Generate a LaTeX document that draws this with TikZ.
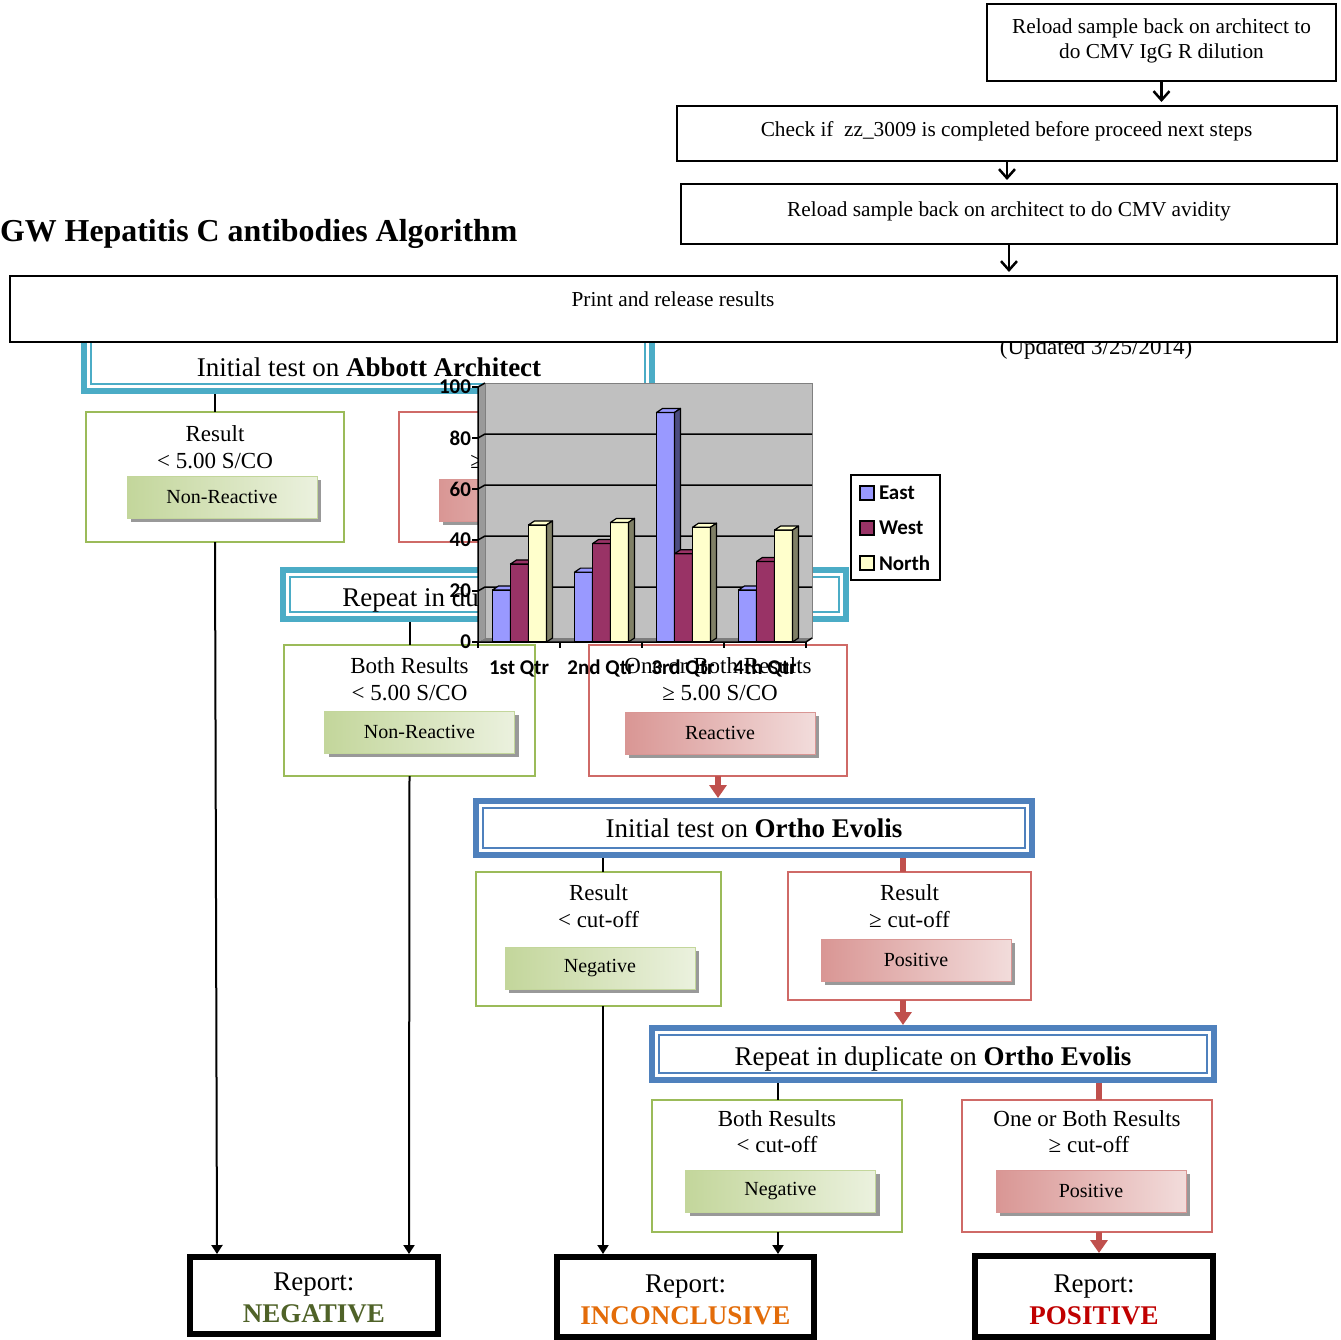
\documentclass[tikz,border=0pt]{standalone}
\usepackage{fontspec}
\setmainfont{Liberation Serif}
\newfontfamily\chartfont{Carlito}
\usetikzlibrary{arrows.meta,shadows}
\definecolor{tealc}{HTML}{4BACC6}
\definecolor{bluec}{HTML}{4F81BD}
\definecolor{grnb}{HTML}{9BBB59}
\definecolor{redb}{HTML}{C0504D}
\definecolor{redbox}{HTML}{CF6A67}
\definecolor{gbtnD}{HTML}{C3D69B}
\definecolor{gbtnL}{HTML}{EBF1DE}
\definecolor{rbtnD}{HTML}{D99694}
\definecolor{rbtnL}{HTML}{F2DCDB}
\definecolor{negc}{HTML}{4F6228}
\definecolor{incc}{HTML}{E36C09}
\definecolor{posc}{HTML}{C00000}
\definecolor{eastc}{HTML}{9999FF}
\definecolor{eastd}{HTML}{4C4C80}
\definecolor{westc}{HTML}{993366}
\definecolor{westd}{HTML}{4C1933}
\definecolor{northc}{HTML}{FFFFCC}
\definecolor{northd}{HTML}{808066}
\definecolor{wallc}{HTML}{C0C0C0}
\newcommand\chartbar[4]{%
  \pgfmathsetmacro\ytop{642-2.55*#2}%
  \filldraw[fill=#3, draw=black, line width=1.2pt, line join=round] (#1,642) rectangle ({#1+18},\ytop);
  \filldraw[fill=#3, draw=black, line width=1.2pt, line join=round] (#1,\ytop) -- ({#1+6},{\ytop-4}) -- ({#1+24},{\ytop-4}) -- ({#1+18},\ytop) -- cycle;
  \filldraw[fill=#4, draw=black, line width=1.2pt, line join=round] ({#1+18},642) -- ({#1+18},\ytop) -- ({#1+24},{\ytop-4}) -- ({#1+24},638) -- cycle;
}
\tikzset{
  every node/.style={inner sep=0pt, outer sep=0pt},
  plainbox/.style={draw=black, line width=2pt, fill=white},
  hdr/.style={draw=#1, line width=6pt, fill=white},
  gbox/.style={draw=grnb, line width=1.5pt, fill=white},
  rbox/.style={draw=redbox, line width=1.5pt, fill=white},
  btn/.style={minimum width=190pt, minimum height=42pt, line width=0.8pt,
     font=\fontsize{20}{24}\selectfont,
     drop shadow={shadow xshift=4pt, shadow yshift=-4pt, fill=black!40, opacity=1}},
  gbtn/.style={btn, left color=gbtnD, right color=gbtnL, draw=gbtnD},
  rbtn/.style={btn, left color=rbtnD, right color=rbtnL, draw=rbtnD},
  rep/.style={draw=black, line width=6pt, fill=white},
  tbox/.style={font=\fontsize{21.3}{25}\selectfont, anchor=base},
  hd/.style={font=\fontsize{27}{32}\selectfont, anchor=base},
  bt/.style={font=\fontsize{23}{27}\selectfont, anchor=base},
  blk/.style={draw=black, line width=2pt, -{Triangle[width=11pt,length=9pt]}},
  blkl/.style={draw=black, line width=2pt},
  redar/.style={draw=redb, line width=6pt, -{Triangle[width=17pt,length=13pt]}},
  redl/.style={draw=redb, line width=6pt},
  topar/.style={draw=black, line width=2.5pt, -{Straight Barb[length=9pt,width=16pt]}},
  ct/.style={font=\chartfont\bfseries\fontsize{21}{25}\selectfont}
}
\begin{document}
\begin{tikzpicture}[x=1pt,y=-1pt]
\useasboundingbox[fill=white] (0,0) rectangle (1341,1340);

% ---------- top steps ----------
\node[anchor=base west, font=\fontsize{31.9}{36}\selectfont\bfseries] (title) at (0,242) {GW Hepatitis C antibodies Algorithm};

\node[plainbox, minimum width=349pt, minimum height=77pt] (R1) at (1161.5,42.5) {};
\node[tbox] (R1a) at (1161.5,34) {Reload sample back on architect to};
\node[tbox] (R1b) at (1161.5,59) {do CMV IgG R dilution};

\node[plainbox, minimum width=660pt, minimum height=55pt] (R2) at (1007,133.5) {};
\node[tbox] (R2t) at (1006.5,137) {Check if\ \ zz\_3009 is completed before proceed next steps};

\node[plainbox, minimum width=656pt, minimum height=60pt] (R3) at (1009,214) {};
\node[tbox] (R3t) at (1009,217) {Reload sample back on architect to do CMV avidity};

\draw[topar, shorten >=4pt] (R1.south) -- (R1.south |- R2.north);
\draw[topar, shorten >=4pt] (R2.south) -- (R2.south |- R3.north);

% ---------- Abbott initial (partly hidden) ----------
\node[hdr=tealc, minimum width=568pt, minimum height=61pt] (AB) at (368,360.5) {};
\draw[tealc, line width=1.5pt] ([shift={(7,7)}]AB.north west) rectangle ([shift={(-7,-7)}]AB.south east);
\node[hd] (ABt) at (369,376) {Initial test on \textbf{Abbott Architect}};

\node[anchor=base, font=\fontsize{23}{27}\selectfont] (upd) at (1096,354) {(Updated 3/25/2014)};

\node[plainbox, minimum width=1327pt, minimum height=66pt] (PR) at (673.5,309) {};
\node[tbox] (PRt) at (673,306) {Print and release results};
\draw[topar, shorten >=4pt] (R3.south) -- (R3.south |- PR.north);

% ---------- Abbott results ----------
\node[gbox, minimum width=258pt, minimum height=130pt] (GB1) at (215,477) {};
\node[bt] (GB1a) at (215,441) {Result};
\node[bt] (GB1b) at (215,468) {< 5.00 S/CO};
\node[gbtn] (NR1) at (222,497) {Non-Reactive};

\node[rbox, minimum width=258pt, minimum height=130pt] (RB1) at (528,477) {};
\node[bt] (RB1a) at (528,441) {Result};
\node[bt] (RB1b) at (528,468) {≥ 5.00 S/CO};
\node[rbtn] (RR1) at (534,500) {Reactive};

\draw[blkl, shorten <=3pt] (AB.south -| GB1.north) -- (GB1.north);

% ---------- Abbott repeat ----------
\node[hdr=tealc, minimum width=563pt, minimum height=49pt] (RA) at (564.5,594.5) {};
\draw[tealc, line width=1.5pt] ([shift={(7,7)}]RA.north west) rectangle ([shift={(-7,-7)}]RA.south east);
\node[hd] (RAt) at (564.5,606) {Repeat in duplicate on \textbf{Abbott Architect}};

\node[gbox, minimum width=251pt, minimum height=131pt] (GB2) at (409.5,710.5) {};
\node[bt] (GB2a) at (409.5,673) {Both Results};
\node[bt] (GB2b) at (409.5,700) {< 5.00 S/CO};
\node[gbtn] (NR2) at (419.5,732) {Non-Reactive};

\node[rbox, minimum width=258pt, minimum height=131pt] (RB2) at (718,710.5) {};
\node[bt] (RB2a) at (718,673) {One or Both Results};
\node[bt] (RB2b) at (720,700) {≥ 5.00 S/CO};
\node[rbtn] (RR2) at (720,733) {Reactive};

\draw[blkl, shorten <=3pt] (RA.south -| GB2.north) -- (GB2.north);

% ---------- Ortho initial ----------
\node[hdr=bluec, minimum width=556pt, minimum height=54pt] (OE) at (754,828) {};
\draw[bluec, line width=1.5pt] ([shift={(7,7)}]OE.north west) rectangle ([shift={(-7,-7)}]OE.south east);
\node[hd] (OEt) at (754,837) {Initial test on \textbf{Ortho Evolis}};
\draw[redar, shorten >=3pt] (RB2.south) -- (RB2.south |- OE.north);

\node[gbox, minimum width=245pt, minimum height=134pt] (GB3) at (598.5,939) {};
\node[bt] (GB3a) at (598.5,900) {Result};
\node[bt] (GB3b) at (598.5,927) {< cut-off};
\node[gbtn] (NG3) at (600,968) {Negative};

\node[rbox, minimum width=243pt, minimum height=128pt] (RB3) at (909.5,936) {};
\node[bt] (RB3a) at (909.5,900) {Result};
\node[bt] (RB3b) at (909.5,927) {≥ cut-off};
\node[rbtn] (PS3) at (916,960) {Positive};

\coordinate (g3c) at ([xshift=4.5pt]GB3.north);
\coordinate (r3c) at ([xshift=-6.5pt]RB3.north);
\draw[blkl, shorten <=3pt] (g3c |- OE.south) -- (g3c);
\draw[redl, shorten <=3pt] (r3c |- OE.south) -- (r3c);

% ---------- Ortho repeat ----------
\node[hdr=bluec, minimum width=562pt, minimum height=52pt] (RO) at (933,1054) {};
\draw[bluec, line width=1.5pt] ([shift={(7,7)}]RO.north west) rectangle ([shift={(-7,-7)}]RO.south east);
\node[hd] (ROt) at (933,1065) {Repeat in duplicate on \textbf{Ortho Evolis}};
\coordinate (r3s) at ([xshift=-6.5pt]RB3.south);
\draw[redar, shorten >=3pt] (r3s) -- (r3s |- RO.north);

\node[gbox, minimum width=250pt, minimum height=132pt] (GB4) at (777,1166) {};
\node[bt] (GB4a) at (777,1126) {Both Results};
\node[bt] (GB4b) at (777,1152) {< cut-off};
\node[gbtn] (NG4) at (780.5,1191) {Negative};

\node[rbox, minimum width=250pt, minimum height=132pt] (RB4) at (1087,1166) {};
\node[bt] (RB4a) at (1087,1126) {One or Both Results};
\node[bt] (RB4b) at (1089,1152) {≥ cut-off};
\node[rbtn] (PS4) at (1091,1191) {Positive};

\coordinate (g4c) at ([xshift=1pt]GB4.north);
\coordinate (r4c) at ([xshift=12pt]RB4.north);
\draw[blkl, shorten <=3pt] (g4c |- RO.south) -- (g4c);
\draw[redl, shorten <=3pt] (r4c |- RO.south) -- (r4c);

% ---------- reports ----------
\node[rep, minimum width=248pt, minimum height=77pt] (RN) at (313.8,1295.5) {};
\node[hd] (RNa) at (313.8,1290) {Report:};
\node[hd, text=negc] (RNb) at (313.8,1322) {\textbf{NEGATIVE}};

\node[rep, minimum width=257pt, minimum height=80pt] (RI) at (685.5,1297) {};
\node[hd] (RIa) at (685.5,1292) {Report:};
\node[hd, text=incc] (RIb) at (685.5,1324) {\textbf{INCONCLUSIVE}};

\node[rep, minimum width=238pt, minimum height=81pt] (RP) at (1094,1296.5) {};
\node[hd] (RPa) at (1094,1292) {Report:};
\node[hd, text=posc] (RPb) at (1094,1324) {\textbf{POSITIVE}};

\coordinate (rn1) at ([xshift=-96.8pt]RN.north);
\coordinate (rn2) at ([xshift=95.2pt]RN.north);
\coordinate (ri1) at ([xshift=-82.5pt]RI.north);
\coordinate (ri2) at ([xshift=92.5pt]RI.north);
\coordinate (rp1) at ([xshift=5pt]RP.north);
\draw[blk, shorten >=3pt] (GB1.south) -- (rn1);
\draw[blk, shorten >=3pt] (GB2.south) -- (rn2);
\draw[blk, shorten >=3pt] (GB3.south -| g3c) -- (ri1);
\draw[blk, shorten >=3pt] (GB4.south -| g4c) -- (ri2);
\draw[redar, shorten >=3pt] (RB4.south -| r4c) -- (rp1);

% ---------- overlaid chart ----------
\fill[wallc!80!black] (478,387) -- (485,383) -- (485,638) -- (478,642) -- cycle;
\filldraw[fill=wallc, draw=black!50, line width=1pt] (485,383) rectangle (812,638);
\fill[wallc!65!black] (478,642) -- (485,638) -- (812,638) -- (806,642) -- cycle;
\foreach \v in {20,40,60,80} {
  \draw[black, line width=1.5pt] (478,{642-2.55*\v}) -- (485,{638-2.55*\v}) -- (812,{638-2.55*\v});
}
\foreach \i/\a/\b/\c in {0/20.4/30.6/45.9, 1/27.4/38.6/46.9, 2/90/34.6/45, 3/20.4/31.6/43.9} {
  \pgfmathsetmacro\xa{492.5+82*\i}
  \pgfmathsetmacro\xb{510.5+82*\i}
  \pgfmathsetmacro\xc{528.5+82*\i}
  \chartbar{\xa}{\a}{eastc}{eastd}
  \chartbar{\xb}{\b}{westc}{westd}
  \chartbar{\xc}{\c}{northc}{northd}
}
\draw[black, line width=1.5pt] (485,383) -- (478,387) -- (478,642) -- (806,642) -- (812,638);
\foreach \v in {0,20,40,60,80,100} {
  \draw[black, line width=1.5pt] (472,{642-2.55*\v}) -- (478,{642-2.55*\v});
  \node[ct, anchor=east] (yl\v) at (471,{642-2.55*\v}) {\v};
}
\foreach \k in {0,...,4} {
  \draw[black, line width=1.5pt] ({478+82*\k},642) -- ({478+82*\k},648);
}
\foreach \k/\lab in {0/1st Qtr, 1/2nd Qtr, 2/3rd Qtr, 3/4th Qtr} {
  \node[ct, anchor=base] (xl\k) at ({519+82*\k},674) {\lab};
}
\node[draw=black, line width=2pt, fill=white, minimum width=89pt, minimum height=105pt] (leg) at (895.5,527.5) {};
\node[draw=black, line width=2pt, fill=eastc, minimum size=14pt] (lgE) at (867,493) {};
\node[ct, anchor=west] (lgEt) at (879,493) {East};
\node[draw=black, line width=2pt, fill=westc, minimum size=14pt] (lgW) at (867,528) {};
\node[ct, anchor=west] (lgWt) at (879,528) {West};
\node[draw=black, line width=2pt, fill=northc, minimum size=14pt] (lgN) at (867,563) {};
\node[ct, anchor=west] (lgNt) at (879,563) {North};
\end{tikzpicture}
\end{document}
